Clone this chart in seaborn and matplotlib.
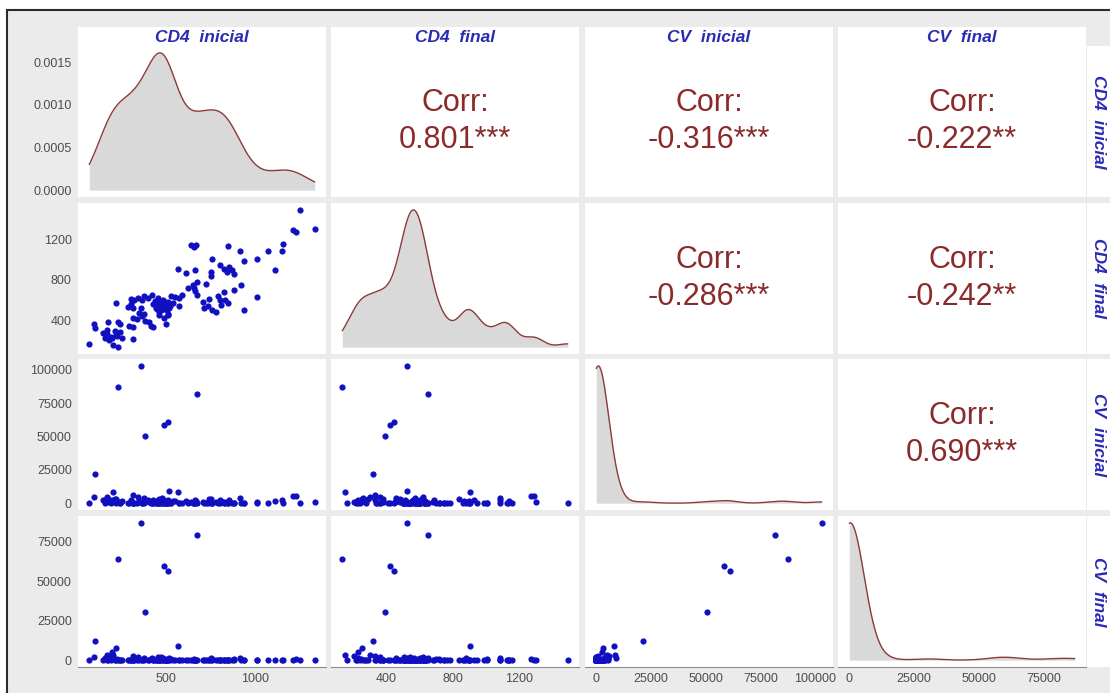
import numpy as np
import pandas as pd
import matplotlib
matplotlib.use('Agg')
import matplotlib.pyplot as plt
import seaborn as sns
from matplotlib.patches import Rectangle
from matplotlib.ticker import FormatStrFormatter

# valores (un paciente por posicion)
cd4_inicial = [361, 233, 672, 490, 510, 383, 106, 205, 520, 567, 1210, 222, 200,
               1246, 1330, 1225, 1154, 1148, 1070, 1009, 1111, 935, 913,
               848, 640, 655, 670, 759, 802, 850, 870, 840, 825,
               880, 611, 663, 750, 752, 917, 722, 1009, 935, 883,
               824, 790, 800, 830, 845, 810, 735, 760, 780, 650,
               660, 665, 626, 676, 574, 530, 550, 575, 590,
               430, 445, 455, 460, 470, 475, 480, 495, 500, 505, 510, 515, 525, 485, 465, 440, 540, 455,
               450, 462, 478, 488, 498, 508, 705, 715, 740,
               380, 400, 425, 455, 305, 325, 345, 370, 290, 305, 320, 222, 350, 365,
               380, 320, 340, 405, 420, 430, 500, 295, 315, 235, 245, 176, 102,
               150, 160, 175, 185, 195, 215, 230, 245, 170, 255, 315, 74]
cd4_final = [523, 135, 652, 420, 449, 394, 320, 154, 523, 905, 1290, 252, 230,
             1492, 1303, 1270, 1156, 1085, 1085, 1005, 899, 989, 1085,
             1133, 1140, 1125, 1140, 1005, 947, 930, 900, 880, 905,
             860, 870, 899, 877, 838, 748, 764, 627, 502, 700,
             684, 640, 600, 600, 570, 555, 540, 505, 480, 745,
             715, 690, 723, 781, 540, 640, 630, 625, 650,
             560, 520, 590, 480, 540, 505, 570, 530, 555, 500, 585, 460, 545, 600, 455, 590, 575, 545,
             510, 565, 540, 515, 580, 540, 585, 520, 615,
             640, 620, 650, 625, 610, 600, 620, 605, 530, 560, 525, 572, 470, 445,
             460, 425, 410, 380, 345, 330, 363, 340, 330, 380, 360, 380, 363,
             270, 230, 260, 205, 240, 290, 250, 280, 300, 225, 219, 165]
cv_inicial = [103000, 87500, 81700, 58500, 61000, 50400, 21500, 8700, 8900, 8100, 5500, 3000, 2500,
              0, 1200, 5200, 0, 2400, 0, 0, 1800, 0, 3500,
              0, 600, 0, 1500, 0, 0, 2200, 0, 900, 0,
              0, 1300, 400, 0, 2800, 0, 0, 1100, 0, 0,
              700, 0, 2000, 0, 0, 1600, 0, 0, 500, 0,
              0, 2600, 0, 300, 0, 0, 1400, 0, 0,
              0, 1900, 0, 3200, 0, 0, 4200, 0, 1000, 0, 0, 2300, 0, 0, 600, 0, 1700, 0,
              0, 800, 0, 2500, 0, 0, 1200, 0, 3000,
              0, 2100, 0, 0, 1300, 0, 4500, 0, 0, 2700, 0, 0, 1500, 0,
              3800, 0, 0, 900, 0, 2000, 0, 0, 5800, 1200, 0, 3300, 4600,
              2600, 0, 3900, 1000, 0, 2900, 700, 0, 4800, 1500, 0, 0]
cv_final = [87000, 64400, 79400, 59400, 56250, 30600, 11900, 3000, 1500, 8750, 400, 7500, 5000,
            0, 0, 900, 0, 0, 0, 400, 0, 0, 1200,
            0, 0, 0, 0, 600, 0, 0, 0, 0, 200,
            0, 0, 0, 1500, 0, 0, 0, 0, 0, 800,
            0, 0, 0, 0, 300, 0, 0, 0, 0, 0,
            1000, 0, 0, 0, 0, 500, 0, 0, 0,
            0, 0, 700, 0, 0, 1800, 0, 0, 0, 400, 0, 0, 0, 1100, 0, 0, 0, 2200,
            0, 1400, 0, 0, 0, 600, 0, 0, 0,
            0, 0, 1300, 0, 0, 0, 2000, 0, 0, 0, 600, 0, 0, 0,
            1600, 0, 0, 0, 900, 0, 0, 0, 2500, 0, 0, 0, 1800,
            0, 1200, 0, 2400, 0, 0, 700, 0, 3500, 0, 0, 0]

etiquetas = ['CD4  inicial', 'CD4  final', 'CV  inicial', 'CV  final']
corr_txt = {(0, 1): '0.801***', (0, 2): '-0.316***', (0, 3): '-0.222**',
            (1, 2): '-0.286***', (1, 3): '-0.242**', (2, 3): '0.690***'}
yticks = [[0, 0.0005, 0.0010, 0.0015], [400, 800, 1200],
          [0, 25000, 50000, 75000, 100000], [0, 25000, 50000, 75000]]
xticks = [[500, 1000], [400, 800, 1200],
          [0, 25000, 50000, 75000, 100000], [0, 25000, 50000, 75000]]
bw_adj = [0.7, 0.55, 0.75, 1.0]

df = pd.DataFrame({'cd4_inicial': cd4_inicial, 'cd4_final': cd4_final,
                   'cv_inicial': cv_inicial, 'cv_final': cv_final})
cols = list(df.columns)

sns.set_style('white')
plt.rcParams['font.family'] = ['Liberation Sans', 'DejaVu Sans']

W, H = 1110, 693
fig = plt.figure(figsize=(W / 100, H / 100), dpi=100)
fig.patch.set_facecolor('white')

# fondo gris con borde oscuro
fig.patches.append(Rectangle((7 / W, -0.01), (W - 7) / W + 0.01, (H - 10) / H + 0.01,
                             transform=fig.transFigure, facecolor='#ebebeb',
                             edgecolor='#2b2b2b', linewidth=1.5, zorder=-10))

col_x = [78, 331, 585, 838]
col_w = 248
row_y = [46, 203, 359, 516]
row_h = 151
strip_blue = '#2a2ab4'
red = '#8b2a2a'

# tiras superiores y laterales
for j in range(4):
    fig.patches.append(Rectangle((col_x[j] / W, 1 - row_y[0] / H), col_w / W, 19 / H,
                                 transform=fig.transFigure, facecolor='white',
                                 edgecolor='none', zorder=-5))
    fig.text((col_x[j] + col_w / 2) / W, 1 - 37 / H, etiquetas[j], ha='center', va='center',
             fontsize=12.5, fontweight='bold', fontstyle='italic', color=strip_blue)
for i in range(4):
    fig.patches.append(Rectangle((1087 / W, 1 - (row_y[i] + row_h) / H), 24 / W, row_h / H,
                                 transform=fig.transFigure, facecolor='white',
                                 edgecolor='none', zorder=-5))
    fig.text(1098 / W, 1 - (row_y[i] + row_h / 2) / H, etiquetas[i], ha='center', va='center',
             rotation=270, fontsize=12.5, fontweight='bold', fontstyle='italic', color=strip_blue)

lims = {}
for c in cols:
    lo, hi = df[c].min(), df[c].max()
    pad = (hi - lo) * 0.05
    lims[c] = (lo - pad, hi + pad)

for i in range(4):
    for j in range(4):
        ax = fig.add_axes([col_x[j] / W, 1 - (row_y[i] + row_h) / H, col_w / W, row_h / H])
        ax.set_facecolor('white')
        for s in ax.spines.values():
            s.set_visible(False)
        if i == j:
            sns.kdeplot(x=df[cols[i]], ax=ax, fill=True, color='#d9d9d9', alpha=1,
                        linewidth=0, cut=0, bw_adjust=bw_adj[i])
            sns.kdeplot(x=df[cols[i]], ax=ax, color='#8b3a3a', linewidth=1,
                        cut=0, bw_adjust=bw_adj[i])
            ymax = ax.lines[-1].get_ydata().max()
            ax.set_ylim(-0.05 * ymax, 1.05 * ymax)
        elif i > j:
            sns.scatterplot(x=df[cols[j]], y=df[cols[i]], ax=ax, color='#1010c0',
                            s=20, linewidth=0)
            ax.set_ylim(lims[cols[i]])
        else:
            ax.text(0.5, 0.5, 'Corr:\n' + corr_txt[(i, j)], ha='center', va='center',
                    multialignment='center', fontsize=22, color=red,
                    linespacing=1.3, transform=ax.transAxes)
        ax.set_xlim(lims[cols[j]])
        ax.set_xlabel('')
        ax.set_ylabel('')
        ax.tick_params(length=2.5, width=0.8, color='#333333', labelsize=9,
                       labelcolor='#4d4d4d', pad=2)
        if j == 0:
            ax.set_yticks(yticks[i])
            if i == 0:
                ax.yaxis.set_major_formatter(FormatStrFormatter('%.4f'))
            else:
                ax.yaxis.set_major_formatter(FormatStrFormatter('%d'))
        else:
            ax.set_yticks([])
        if i == 3:
            ax.set_xticks(xticks[j])
            ax.xaxis.set_major_formatter(FormatStrFormatter('%d'))
            ax.spines['bottom'].set_visible(True)
            ax.spines['bottom'].set_color('#8c8c8c')
        else:
            ax.set_xticks([])

fig.savefig('out.png', dpi=100)
